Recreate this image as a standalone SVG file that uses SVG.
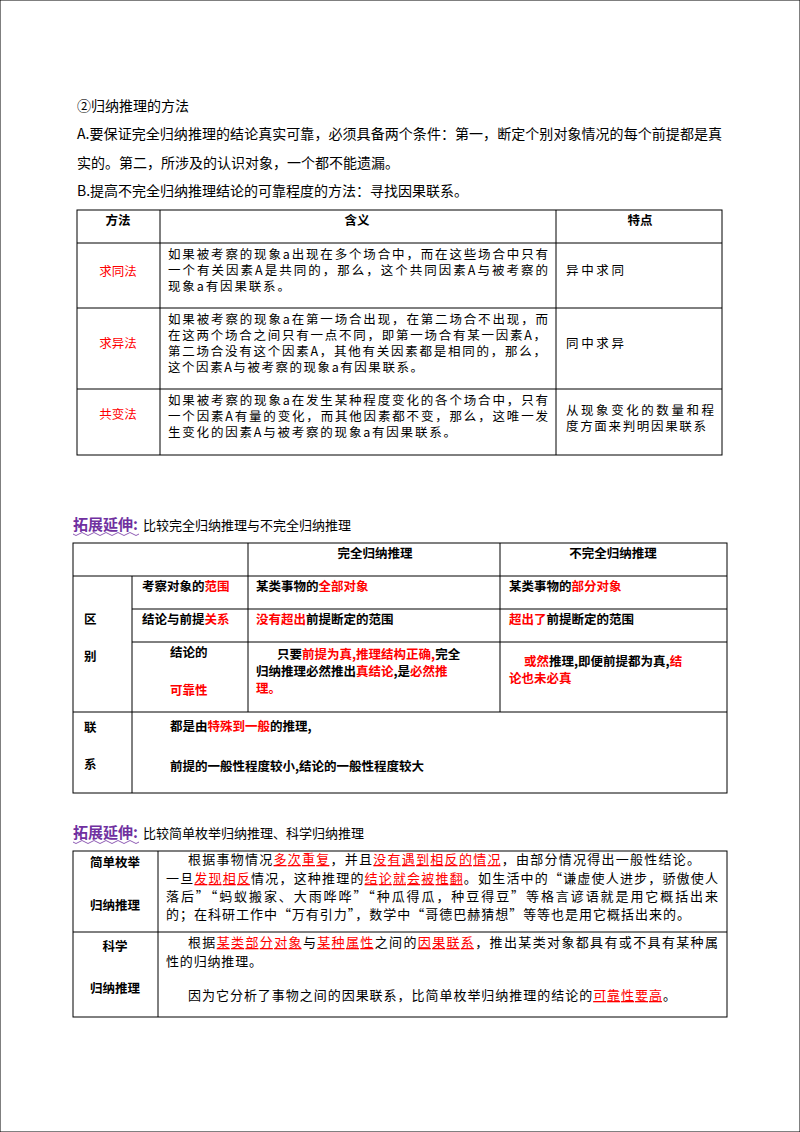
<svg xmlns="http://www.w3.org/2000/svg" width="800" height="1132" viewBox="0 0 800 1132">
<style>
text{font-family:"Noto Sans CJK SC","Liberation Sans",sans-serif;fill:#000}
.p{font-size:14px}
.t{font-size:12.5px}
.t3{font-size:13px}
.b{font-weight:bold}
.r{fill:#f00}
.u{fill:#f00;text-decoration:underline}
.c{text-anchor:middle}
.h{font-size:15px;font-weight:bold;fill:#7030a0}
line,rect{stroke:#000;stroke-width:1;fill:none}
</style>
<rect width="800" height="1132" fill="#fff" stroke="none"/>
<g id="intro" class="p">
<text x="77" y="111">②归纳推理的方法</text>
<text x="77" y="139" textLength="645" lengthAdjust="spacing">A.要保证完全归纳推理的结论真实可靠，必须具备两个条件：第一，断定个别对象情况的每个前提都是真</text>
<text x="77" y="168">实的。第二，所涉及的认识对象，一个都不能遗漏。</text>
<text x="77" y="196">B.提高不完全归纳推理结论的可靠程度的方法：寻找因果联系。</text>
</g>
<g id="table1">
<rect x="77" y="210" width="645" height="245"/>
<line x1="77" y1="243" x2="722" y2="243"/><line x1="77" y1="308" x2="722" y2="308"/><line x1="77" y1="389" x2="722" y2="389"/>
<line x1="160" y1="210" x2="160" y2="455"/><line x1="556" y1="210" x2="556" y2="455"/>
<g class="t b"><text x="118" y="225" class="c">方法</text><text x="357" y="225" class="c">含义</text><text x="640" y="225" class="c">特点</text></g>
<g class="t">
<text x="118" y="276" class="c r">求同法</text>
<text x="168" y="259" textLength="380" lengthAdjust="spacing">如果被考察的现象a出现在多个场合中，而在这些场合中只有</text>
<text x="168" y="275" textLength="380" lengthAdjust="spacing">一个有关因素A是共同的，那么，这个共同因素A与被考察的</text>
<text x="168" y="291" textLength="122" lengthAdjust="spacing">现象a有因果联系。</text>
<text x="566" y="275" textLength="58" lengthAdjust="spacing">异中求同</text>
<text x="118" y="348" class="c r">求异法</text>
<text x="168" y="324" textLength="380" lengthAdjust="spacing">如果被考察的现象a在第一场合出现，在第二场合不出现，而</text>
<text x="168" y="340" textLength="378" lengthAdjust="spacing">在这两个场合之间只有一点不同，即第一场合有某一因素A，</text>
<text x="168" y="356" textLength="378" lengthAdjust="spacing">第二场合没有这个因素A，其他有关因素都是相同的，那么，</text>
<text x="168" y="372" textLength="255" lengthAdjust="spacing">这个因素A与被考察的现象a有因果联系。</text>
<text x="566" y="348" textLength="58" lengthAdjust="spacing">同中求异</text>
<text x="118" y="419" class="c r">共变法</text>
<text x="168" y="405" textLength="380" lengthAdjust="spacing">如果被考察的现象a在发生某种程度变化的各个场合中，只有</text>
<text x="168" y="421" textLength="380" lengthAdjust="spacing">一个因素A有量的变化，而其他因素都不变，那么，这唯一发</text>
<text x="168" y="437" textLength="288" lengthAdjust="spacing">生变化的因素A与被考察的现象a有因果联系。</text>
<text x="566" y="415" textLength="148" lengthAdjust="spacing">从现象变化的数量和程</text>
<text x="566" y="431" textLength="140" lengthAdjust="spacing">度方面来判明因果联系</text>
</g>
</g>
<g id="heading2">
<text x="73" y="530" class="h">拓展延伸:</text><text x="143" y="530" font-size="13">比较完全归纳推理与不完全归纳推理</text>
<path d="M73 534 q3 3 6 0 t6 0 t6 0 t6 0 t6 0 t6 0 t6 0 t6 0 t6 0 t6 0 t6 0" stroke="#7030a0" fill="none" stroke-width="0.8"/>
</g>
<g id="table2">
<rect x="73" y="543" width="654" height="250"/>
<line x1="73" y1="576" x2="727" y2="576"/><line x1="132" y1="609" x2="727" y2="609"/><line x1="132" y1="642" x2="727" y2="642"/><line x1="73" y1="712" x2="727" y2="712"/>
<line x1="132" y1="576" x2="132" y2="793"/><line x1="248" y1="543" x2="248" y2="712"/><line x1="500" y1="543" x2="500" y2="712"/>
<g class="t b">
<text x="375" y="558" class="c">完全归纳推理</text><text x="613" y="558" class="c">不完全归纳推理</text>
<text x="84" y="624">区</text><text x="84" y="661">别</text>
<text x="84" y="732">联</text><text x="84" y="769">系</text>
<text x="142" y="591">考察对象的<tspan class="r">范围</tspan></text>
<text x="142" y="624">结论与前提<tspan class="r">关系</tspan></text>
<text x="170" y="657">结论的</text><text x="170" y="695" class="r">可靠性</text>
<text x="256" y="591">某类事物的<tspan class="r">全部对象</tspan></text>
<text x="256" y="624"><tspan class="r">没有超出</tspan>前提断定的范围</text>
<text x="277" y="659">只要<tspan class="r">前提为真,推理结构正确,</tspan>完全</text>
<text x="256" y="676">归纳推理必然推出<tspan class="r">真结论</tspan>,是<tspan class="r">必然推</tspan></text>
<text x="256" y="693" class="r">理。</text>
<text x="509" y="591">某类事物的<tspan class="r">部分对象</tspan></text>
<text x="509" y="624"><tspan class="r">超出了</tspan>前提断定的范围</text>
<text x="524" y="666"><tspan class="r">或然</tspan>推理,即便前提都为真,<tspan class="r">结</tspan></text>
<text x="509" y="683" class="r">论也未必真</text>
<text x="170" y="731">都是由<tspan class="r">特殊到一般</tspan>的推理,</text>
<text x="170" y="771">前提的一般性程度较小,结论的一般性程度较大</text>
</g>
</g>
<g id="heading3">
<text x="73" y="838" class="h">拓展延伸:</text><text x="143" y="838" font-size="13">比较简单枚举归纳推理、科学归纳推理</text>
<path d="M73 842 q3 3 6 0 t6 0 t6 0 t6 0 t6 0 t6 0 t6 0 t6 0 t6 0 t6 0 t6 0" stroke="#7030a0" fill="none" stroke-width="0.8"/>
</g>
<g id="table3">
<rect x="73" y="851" width="654" height="166"/>
<line x1="73" y1="932" x2="727" y2="932"/><line x1="158" y1="851" x2="158" y2="1017"/>
<g class="t b">
<text x="115" y="867" class="c">简单枚举</text><text x="115" y="910" class="c">归纳推理</text>
<text x="115" y="951" class="c">科学</text><text x="115" y="993" class="c">归纳推理</text>
</g>
<g class="t3">
<text x="188" y="864" textLength="512" lengthAdjust="spacing">根据事物情况<tspan class="u">多次重复</tspan>，并且<tspan class="u">没有遇到相反的情况</tspan>，由部分情况得出一般性结论。</text>
<text x="166" y="883" textLength="552" lengthAdjust="spacing">一旦<tspan class="u">发现相反</tspan>情况，这种推理的<tspan class="u">结论就会被推翻</tspan>。如生活中的“谦虚使人进步，骄傲使人</text>
<text x="166" y="901" textLength="552" lengthAdjust="spacing">落后”“蚂蚁搬家、大雨哗哗”“种瓜得瓜，种豆得豆”等格言谚语就是用它概括出来</text>
<text x="166" y="919" textLength="524" lengthAdjust="spacing">的；在科研工作中“万有引力”，数学中“哥德巴赫猜想”等等也是用它概括出来的。</text>
<text x="188" y="947" textLength="530" lengthAdjust="spacing">根据<tspan class="u">某类部分对象</tspan>与<tspan class="u">某种属性</tspan>之间的<tspan class="u">因果联系</tspan>，推出某类对象都具有或不具有某种属</text>
<text x="166" y="966" textLength="96" lengthAdjust="spacing">性的归纳推理。</text>
<text x="188" y="1000" textLength="488" lengthAdjust="spacing">因为它分析了事物之间的因果联系，比简单枚举归纳推理的结论的<tspan class="u">可靠性要高</tspan>。</text>
</g>
</g>
</svg>
